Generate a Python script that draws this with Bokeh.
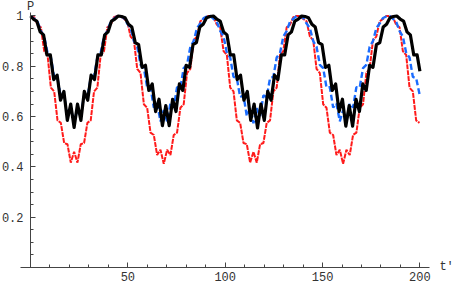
from bokeh.plotting import figure
from bokeh.models import LinearAxis, FixedTicker, Label
from bokeh.embed import file_html
from bokeh.resources import INLINE

# ---- data (t', P) ----
black_t = [0.0, 1.46, 3.21, 4.95, 6.70, 8.44, 10.19, 11.93, 13.68, 15.42, 17.16, 18.91, 20.65, 22.40,
           24.14, 25.89, 27.63, 29.38, 31.12, 32.86, 34.61, 36.35, 38.10, 39.84, 41.59, 43.33, 45.07,
           46.82, 48.56, 50.31, 52.05, 53.80, 55.54, 57.29, 59.03, 60.77, 62.52, 64.26, 66.01, 67.75,
           69.50, 71.24, 72.99, 74.73, 76.47, 78.22, 79.96, 81.71, 83.45, 85.20, 86.94, 88.68, 90.43,
           92.17, 93.92, 95.66, 97.41, 99.15, 100.90, 102.64, 104.38, 106.13, 107.87, 109.62, 111.36,
           113.11, 114.85, 116.60, 118.34, 120.08, 121.83, 123.57, 125.32, 127.06, 128.81, 130.55,
           132.29, 134.04, 135.78, 137.53, 139.27, 141.02, 142.76, 144.51, 146.25, 147.99, 149.74,
           151.48, 153.23, 154.97, 156.72, 158.46, 160.21, 161.95, 163.69, 165.44, 167.18, 168.93,
           170.67, 172.42, 174.16, 175.90, 177.65, 179.39, 181.14, 182.88, 184.63, 186.37, 188.12,
           189.86, 191.60, 193.35, 195.09, 196.84, 198.58, 200.0]
black_p = [1.0, 0.988, 0.98, 0.937, 0.925, 0.845, 0.845, 0.747, 0.765, 0.665, 0.70, 0.585, 0.65, 0.557,
           0.65, 0.585, 0.70, 0.665, 0.765, 0.747, 0.845, 0.845, 0.925, 0.937, 0.98, 0.988, 1.0,
           0.998, 0.993, 0.967, 0.956, 0.894, 0.886, 0.796, 0.804, 0.704, 0.73, 0.62, 0.669, 0.564,
           0.644, 0.564, 0.669, 0.62, 0.73, 0.704, 0.804, 0.796, 0.886, 0.894, 0.956, 0.967, 0.993, 0.998,
           1.0, 0.988, 0.98, 0.937, 0.925, 0.845, 0.845, 0.747, 0.765, 0.665, 0.70, 0.585, 0.65, 0.555,
           0.65, 0.585, 0.70, 0.665, 0.765, 0.747, 0.845, 0.845, 0.925, 0.937, 0.98, 0.988, 1.0,
           0.998, 0.993, 0.967, 0.956, 0.894, 0.886, 0.796, 0.804, 0.704, 0.73, 0.62, 0.669, 0.562,
           0.644, 0.562, 0.669, 0.62, 0.73, 0.704, 0.804, 0.796, 0.886, 0.894, 0.956, 0.967, 0.993, 0.998,
           1.0, 0.988, 0.98, 0.937, 0.925, 0.845, 0.845, 0.78]

rb_t = [0.0, 1.93, 3.64, 5.34, 7.05, 8.76, 10.46, 12.17, 13.87, 15.58, 17.28, 18.99, 20.69, 22.40,
        24.11, 25.81, 27.52, 29.22, 30.93, 32.63, 34.34, 36.04, 37.75, 39.46, 41.16, 42.87, 44.57,
        46.28, 47.98, 49.69, 51.40, 53.10, 54.81, 56.51, 58.22, 59.92, 61.63, 63.33, 65.04, 66.75,
        68.45, 70.16, 71.86, 73.57, 75.27, 76.98, 78.68, 80.39, 82.10, 83.80, 85.51, 87.21, 88.92,
        90.62, 92.33, 94.04, 95.74, 97.45, 99.15, 100.86, 102.56, 104.27, 105.97, 107.68, 109.39,
        111.09, 112.80, 114.50, 116.21, 117.91, 119.62, 121.32, 123.03, 124.74, 126.44, 128.15,
        129.85, 131.56, 133.26, 134.97, 136.68, 138.38, 140.09, 141.79, 143.50, 145.20, 146.91,
        148.61, 150.32, 152.03, 153.73, 155.44, 157.14, 158.85, 160.55, 162.26, 163.96, 165.67,
        167.38, 169.08, 170.79, 172.49, 174.20, 175.90, 177.61, 179.32, 181.02, 182.73, 184.43,
        186.14, 187.84, 189.55, 191.25, 192.96, 194.67, 196.37, 198.08, 199.78]
red_p = [1.0, 0.995, 0.965, 0.955, 0.86, 0.845, 0.715, 0.70, 0.585, 0.575, 0.495, 0.49, 0.417, 0.46,
         0.417, 0.49, 0.495, 0.575, 0.585, 0.70, 0.715, 0.845, 0.86, 0.955, 0.965, 0.995, 1.0,
         1.0, 0.988, 0.979, 0.918, 0.904, 0.79, 0.773, 0.649, 0.635, 0.536, 0.527, 0.447, 0.468, 0.412,
         0.468, 0.447, 0.527, 0.536, 0.635, 0.649, 0.773, 0.79, 0.904, 0.918, 0.979, 0.988, 1.0,
         1.0, 0.995, 0.965, 0.955, 0.86, 0.845, 0.715, 0.70, 0.585, 0.575, 0.495, 0.49, 0.417, 0.46,
         0.417, 0.49, 0.495, 0.575, 0.585, 0.70, 0.715, 0.845, 0.86, 0.955, 0.965, 0.995, 1.0,
         1.0, 0.988, 0.979, 0.918, 0.904, 0.79, 0.773, 0.649, 0.635, 0.536, 0.527, 0.447, 0.468, 0.412,
         0.468, 0.447, 0.527, 0.536, 0.635, 0.649, 0.773, 0.79, 0.904, 0.918, 0.979, 0.988, 1.0,
         1.0, 0.995, 0.965, 0.955, 0.86, 0.845, 0.715, 0.70, 0.585, 0.575]
blue_p = [1.0, 0.989, 0.977, 0.94, 0.919, 0.853, 0.835, 0.758, 0.753, 0.678, 0.684, 0.602, 0.633, 0.574,
          0.633, 0.602, 0.684, 0.678, 0.753, 0.758, 0.835, 0.853, 0.919, 0.94, 0.977, 0.989, 1.0,
          0.998, 0.992, 0.97, 0.952, 0.90, 0.878, 0.806, 0.793, 0.716, 0.717, 0.636, 0.652, 0.581,
          0.626, 0.581, 0.652, 0.636, 0.717, 0.716, 0.793, 0.806, 0.878, 0.90, 0.952, 0.97, 0.992, 0.998,
          1.0, 0.989, 0.977, 0.94, 0.919, 0.853, 0.835, 0.758, 0.753, 0.678, 0.684, 0.602, 0.633, 0.574,
          0.633, 0.602, 0.684, 0.678, 0.753, 0.758, 0.835, 0.853, 0.919, 0.94, 0.977, 0.989, 1.0,
          0.998, 0.992, 0.97, 0.952, 0.90, 0.878, 0.806, 0.793, 0.716, 0.717, 0.636, 0.652, 0.581,
          0.626, 0.581, 0.652, 0.636, 0.717, 0.716, 0.793, 0.806, 0.878, 0.90, 0.952, 0.97, 0.992, 0.998,
          1.0, 0.989, 0.977, 0.94, 0.919, 0.853, 0.835, 0.758, 0.753, 0.69]

x_ticks = [50, 100, 150, 200]
x_minor = [10, 20, 30, 40, 60, 70, 80, 90, 110, 120, 130, 140, 160, 170, 180, 190]
y_ticks = [0.2, 0.4, 0.6, 0.8, 1.0]
y_minor = [0.05, 0.1, 0.15, 0.25, 0.3, 0.35, 0.45, 0.5, 0.55, 0.65, 0.7, 0.75, 0.85, 0.9, 0.95]

FONT = "Liberation Mono"
AX = "#444444"
TXT = "#333333"

# the frame fills the whole canvas; the axes are drawn inside it at x=0 and y=0
p = figure(width=466, height=285, x_range=(-15.41, 223.93), y_range=(-0.0716, 1.0616),
           output_backend="svg", toolbar_location=None,
           x_axis_location=None, y_axis_location=None,
           min_border_left=0, min_border_right=0, min_border_top=0, min_border_bottom=0)
p.outline_line_color = None
p.xgrid.visible = False
p.ygrid.visible = False
p.background_fill_color = "white"
p.border_fill_color = "white"

def style(ax):
    ax.axis_line_color = AX
    ax.axis_line_width = 1
    ax.major_tick_line_color = AX
    ax.minor_tick_line_color = AX
    ax.major_tick_in = 5
    ax.major_tick_out = 0
    ax.minor_tick_in = 3
    ax.minor_tick_out = 0
    ax.major_label_text_font = FONT
    ax.major_label_text_font_size = "12px"
    ax.major_label_text_color = TXT

xaxis = LinearAxis(fixed_location=0, bounds=(-5.1, 204.8),
                   ticker=FixedTicker(ticks=x_ticks, minor_ticks=x_minor))
style(xaxis)
xaxis.major_label_standoff = 5
p.add_layout(xaxis, "below")

yaxis = LinearAxis(fixed_location=0, bounds=(0, 1.015),
                   ticker=FixedTicker(ticks=y_ticks, minor_ticks=y_minor),
                   major_label_overrides={1: "1"})
style(yaxis)
yaxis.major_label_standoff = 7
p.add_layout(yaxis, "left")

p.line(rb_t, red_p, line_color="#ff1a1a", line_width=2, line_dash="5 1")
p.line(rb_t, blue_p, line_color="#1a6cff", line_width=2.4, line_dash="6 3")
p.line(black_t, black_p, line_color="black", line_width=3.2, line_join="round")

p.add_layout(Label(x=0, y=1.035, text="P", text_align="center", text_baseline="middle",
                   text_font=FONT, text_font_size="12px", text_color=TXT))
p.add_layout(Label(x=210, y=0, text="t'", text_align="left", text_baseline="middle",
                   text_font=FONT, text_font_size="12px", text_color=TXT))

open("out.html", "w").write(file_html(p, INLINE))
